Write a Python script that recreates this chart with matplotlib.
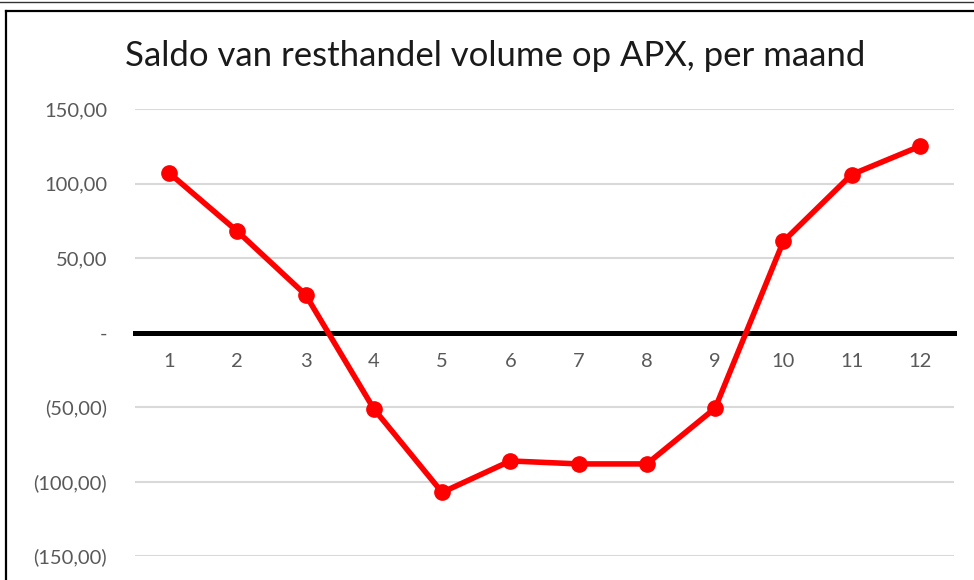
import numpy as np
import matplotlib
matplotlib.use("Agg")
import matplotlib.pyplot as plt
from matplotlib.lines import Line2D
from matplotlib.ticker import FuncFormatter

# data
maanden = [1, 2, 3, 4, 5, 6, 7, 8, 9, 10, 11, 12]
saldo = [107.1, 67.9, 25.3, -51.3, -107.3, -86.2, -88.2, -88.2, -50.8, 61.2, 106.0, 125.0]
y_ticks = [-150, -100, -50, 0, 50, 100, 150]
titel = "Saldo van resthandel volume op APX, per maand"

plt.rcParams["font.family"] = ["Lato", "DejaVu Sans"]

W, H = 974, 580
fig = plt.figure(figsize=(W / 100, H / 100), dpi=100)
fig.patch.set_facecolor("white")

# axes placed in pixel terms (left, bottom, width, height)
ax = fig.add_axes([135 / W, (H - 556) / H, (954 - 135) / W, (556 - 109) / H])

ax.plot(maanden, saldo, color="#ff0000", linewidth=4, marker="o",
        markersize=11, zorder=4, clip_on=False)

ax.set_xlim(0.5, 12.5)
ax.set_ylim(-150, 150)
ax.set_yticks(y_ticks)
ax.set_xticks(maanden)


def fmt(v, pos):
    if v == 0:
        return "-"
    s = f"{abs(v):.2f}".replace(".", ",")
    return f"({s})" if v < 0 else s


ax.yaxis.set_major_formatter(FuncFormatter(fmt))
ax.grid(axis="y", color="#d9d9d9", linewidth=1.5, zorder=0)
ax.set_axisbelow(True)

for s in ["top", "right", "left"]:
    ax.spines[s].set_visible(False)
ax.spines["bottom"].set_position(("data", 0))
ax.spines["bottom"].set_color("black")
ax.spines["bottom"].set_linewidth(3.6)
ax.spines["bottom"].set_zorder(3)

ax.tick_params(axis="y", length=0, pad=20, labelsize=14.5, labelcolor="#595959")
ax.tick_params(axis="x", length=0, pad=15, labelsize=14.5, labelcolor="#595959")

fig.text(495 / W, 1 - 56 / H, titel, ha="center", va="center",
         fontsize=25, color="#1a1a1a")

# frame of the (cropped) chart window
fig.add_artist(Line2D([0, 1], [1 - 1.5 / H, 1 - 1.5 / H], color="#333333", linewidth=1))
fig.add_artist(Line2D([6 / W, 1], [1 - 10.5 / H, 1 - 10.5 / H], color="black", linewidth=1.6))
fig.add_artist(Line2D([6 / W, 6 / W], [0, 1 - 10.5 / H], color="black", linewidth=1.6))

fig.savefig("out.png", dpi=100)
